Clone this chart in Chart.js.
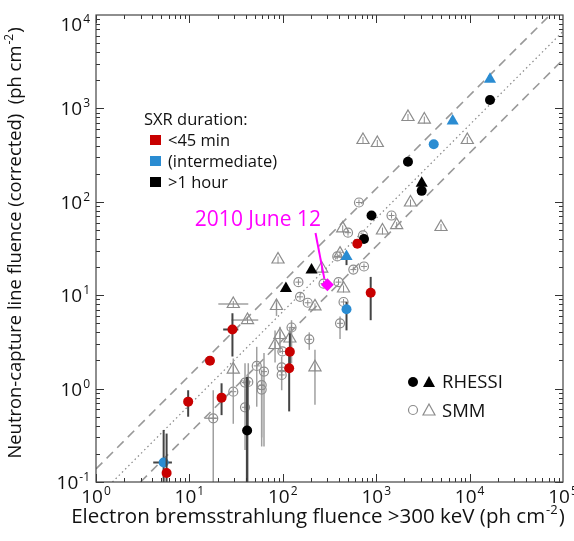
<!DOCTYPE html>
<html>
<head>
<meta charset="utf-8">
<script src="https://cdn.jsdelivr.net/npm/chart.js@4.4.1/dist/chart.umd.min.js"></script>
<style>
  html, body { margin: 0; padding: 0; background: #fff; }
</style>
</head>
<body>
<canvas id="chart" width="574" height="541"></canvas>
<script>
// rows: [x, y, yLow, yHigh, xLow, xHigh]  (null = no bar)
const rhessiRed = [
  [5.7, 0.125, 0.1, 0.33, null, null],
  [9.7, 0.725, 0.5, 0.96, null, null],
  [16.6, 1.99, null, null, null, null],
  [22.1, 0.80, 0.52, 1.14, null, null],
  [28.9, 4.3, 2.2, 6.4, 23, 33.4],
  [119, 2.48, 1.6, 3.9, null, null],
  [117, 1.65, 0.57, 2.4, null, null],
  [628, 35.6, null, null, null, null],
  [873, 10.6, 5.4, 15.7, null, null]
];
const rhessiBlue = [
  [5.3, 0.162, 0.1, 0.36, 4.1, 6.5],
  [481, 7.06, 4.2, 8.5, null, null],
  [4130, 413, null, null, null, null]
];
const rhessiBlack = [
  [41.5, 0.356, 0.1, 1.34, null, null],
  [740, 40.0, null, null, null, null],
  [891, 71.3, null, null, null, null],
  [2189, 269, null, null, null, null],
  [3070, 131, null, null, null, null],
  [16530, 1230, null, null, null, null]
];
const rhessiBlackTri = [
  [108, 11.8], [203, 18.6], [3070, 158]
];
const rhessiBlueTri = [
  [481, 26.0, 21, 26, null, null], [6590, 733], [16530, 2050]
];
const june12 = [[300, 12.9]];

const smmCircles = [
  [18.0, 0.481, 0.1, 0.96, 14.7, 20.2],
  [29.5, 0.927, null, null, null, null],
  [39.4, 0.631, 0.22, 1.0, null, null],
  [39.4, 1.16, 0.6, 1.87, null, null],
  [42.7, 1.18, 0.4, 1.87, null, null],
  [52.6, 1.75, 0.64, 2.8, null, null],
  [62.9, 1.52, 0.24, 2.4, null, null],
  [59.4, 1.09, 0.3, 1.6, null, null],
  [59.4, 0.977, 0.24, 1.4, null, null],
  [99, 2.5, null, null, null, null],
  [97.3, 1.69, 0.96, 2.2, null, null],
  [97.3, 1.40, null, null, null, null],
  [124, 4.51, 1.87, 5.4, null, null],
  [192, 3.37, 2.6, 4.0, null, null],
  [147, 13.8], [153, 9.6], [185, 8.3], [273, 13.3], [395, 13.8],
  [447, 8.46],
  [410, 5.0, 3.4, 5.9, null, null],
  [569, 18.8], [740, 20.3], [383, 26.0], [499, 46.7], [722, 43.6],
  [654, 98.3], [1459, 71.3]
];
const smmTriangles = [
  [29.5, 8.05, null, null, 20.4, 42.7],
  [41.9, 5.42, null, null, 28.3, 54.6],
  [85.6, 7.66, 6.0, 9.0, null, null],
  [93.3, 3.75, 2.4, 4.6, null, null],
  [82.6, 2.93, 1.9, 4.2, null, null],
  [119, 3.44, 2.4, 4.6, null, null],
  [221, 7.6],
  [29.5, 1.60, 0.42, 2.1, null, null],
  [221, 1.69, 0.67, 2.6, null, null],
  [88.9, 24.1], [261, 19.3], [447, 11.8], [410, 27.9], [438, 52.0],
  [1167, 49.3], [1657, 56.4], [2329, 98.3], [4943, 53.7], [9450, 459],
  [722, 459], [1028, 426], [2189, 809], [3275, 760]
];

// reference lines (end points)
const upperDash = [[1, 0.138], [72500, 10000]];
const dottedLine = [[1.5, 0.1], [150000, 10000]];
const lowerDash = [[3, 0.1], [300000, 10000]];

const xTickValues = [1, 10, 100, 1000, 10000, 100000];
const xTickExp = ['0', '1', '2', '3', '4', '5'];
const yTickValues = [0.1, 1, 10, 100, 1000, 10000];
const yTickExp = ['-1', '0', '1', '2', '3', '4'];

const RED = '#c80000', BLUE = '#2a8cd2', BLACK = '#000', GREY = '#8c8c8c';
const FONT = '"Open Sans", "DejaVu Sans", sans-serif';

const pts = rows => rows.map(r => ({
  x: r[0], y: r[1],
  yLo: r[2] ?? null, yHi: r[3] ?? null, xLo: r[4] ?? null, xHi: r[5] ?? null
}));
const linePts = rows => rows.map(r => ({ x: r[0], y: r[1] }));

function supText(ctx, base, sup, x, y, align, size, supSize) {
  ctx.font = size + 'px ' + FONT;
  const wb = ctx.measureText(base).width;
  ctx.font = supSize + 'px ' + FONT;
  const ws = ctx.measureText(sup).width;
  const total = wb + ws + 1;
  let x0 = x;
  if (align === 'center') x0 = x - total / 2;
  if (align === 'right') x0 = x - total;
  ctx.textAlign = 'left';
  ctx.font = size + 'px ' + FONT;
  ctx.fillText(base, x0, y);
  ctx.font = supSize + 'px ' + FONT;
  ctx.fillText(sup, x0 + wb + 1, y - size * 0.42);
}

// title with a trailing "cm^-2)" superscript
function unitTitle(ctx, text, cx, y, size) {
  ctx.font = size + 'px ' + FONT;
  const wt = ctx.measureText(text).width;
  const wc = ctx.measureText(')').width;
  ctx.font = Math.round(size * 0.63) + 'px ' + FONT;
  const ws = ctx.measureText('-2').width;
  const x0 = cx - (wt + ws + wc + 2) / 2;
  ctx.textAlign = 'left';
  ctx.font = size + 'px ' + FONT;
  ctx.fillText(text, x0, y);
  ctx.fillText(')', x0 + wt + ws + 2, y);
  ctx.font = Math.round(size * 0.63) + 'px ' + FONT;
  ctx.fillText('-2', x0 + wt + 1, y - size * 0.42);
}

const errorBars = {
  id: 'errorBars',
  beforeDatasetDraw(chart, args) {
    const ds = chart.data.datasets[args.index];
    if (!ds.bars) return;
    const { ctx, chartArea: a, scales: { x, y } } = chart;
    ctx.save();
    ctx.beginPath();
    ctx.rect(a.left, a.top, a.width, a.height);
    ctx.clip();
    ctx.strokeStyle = ds.bars.color;
    ctx.lineWidth = ds.bars.width;
    ds.data.forEach(p => {
      const px = x.getPixelForValue(p.x), py = y.getPixelForValue(p.y);
      ctx.beginPath();
      if (p.yLo != null) {
        ctx.moveTo(px, y.getPixelForValue(p.yLo));
        ctx.lineTo(px, y.getPixelForValue(p.yHi));
      }
      if (p.xLo != null) {
        ctx.moveTo(x.getPixelForValue(p.xLo), py);
        ctx.lineTo(x.getPixelForValue(p.xHi), py);
      }
      ctx.stroke();
    });
    ctx.restore();
  },
  afterDatasetDraw(chart, args) {
    const ds = chart.data.datasets[args.index];
    if (!ds.inner) return;
    const { ctx, scales: { x, y } } = chart;
    ctx.save();
    ctx.strokeStyle = GREY;
    ctx.lineWidth = 1;
    ds.data.forEach(p => {
      const px = x.getPixelForValue(p.x), py = y.getPixelForValue(p.y);
      ctx.beginPath();
      if (ds.inner === 'plus') {
        ctx.moveTo(px, py - 3); ctx.lineTo(px, py + 3);
        ctx.moveTo(px - 3, py); ctx.lineTo(px + 3, py);
      } else {
        ctx.moveTo(px, py - 3); ctx.lineTo(px, py + 4);
      }
      ctx.stroke();
    });
    ctx.restore();
  }
};

const frame = {
  id: 'frame',
  afterDraw(chart) {
    const { ctx, chartArea: a, scales: { x, y } } = chart;
    ctx.save();
    // inward ticks on all four sides
    ctx.strokeStyle = '#333';
    ctx.lineWidth = 1;
    ctx.beginPath();
    for (let d = 1; d < 100000; d *= 10) {
      for (let m = 1; m <= 9; m++) {
        const px = Math.round(x.getPixelForValue(d * m)) + 0.5;
        const len = m === 1 ? 8 : 4;
        ctx.moveTo(px, a.bottom); ctx.lineTo(px, a.bottom - len);
        ctx.moveTo(px, a.top); ctx.lineTo(px, a.top + len);
      }
    }
    for (let d = 0.1; d < 10000; d *= 10) {
      for (let m = 1; m <= 9; m++) {
        const py = Math.round(y.getPixelForValue(d * m)) + 0.5;
        const len = m === 1 ? 8 : 4;
        ctx.moveTo(a.left, py); ctx.lineTo(a.left + len, py);
        ctx.moveTo(a.right, py); ctx.lineTo(a.right - len, py);
      }
    }
    ctx.stroke();
    ctx.strokeStyle = '#444';
    ctx.lineWidth = 1.2;
    ctx.strokeRect(a.left, a.top, a.width, a.height);

    // tick labels
    ctx.fillStyle = '#111';
    xTickValues.forEach((v, i) => {
      supText(ctx, '10', xTickExp[i], x.getPixelForValue(v), 503, 'center', 19, 12);
    });
    yTickValues.forEach((v, i) => {
      const py = y.getPixelForValue(v);
      supText(ctx, '10', yTickExp[i], 90, Math.max(py + 7, 31), 'right', 19, 12);
    });

    // axis titles
    unitTitle(ctx, 'Electron bremsstrahlung fluence >300 keV (ph cm', 318, 523, 20.5);
    ctx.save();
    ctx.translate(21, 243);
    ctx.rotate(-Math.PI / 2);
    unitTitle(ctx, 'Neutron-capture line fluence (corrected)  (ph cm', 0, 0, 18.4);
    ctx.restore();

    // SXR duration legend
    ctx.textAlign = 'left';
    ctx.fillStyle = '#111';
    ctx.font = '16.5px ' + FONT;
    ctx.fillText('SXR duration:', 144, 125);
    const rows = [[RED, '<45 min', 140], [BLUE, '(intermediate)', 161], [BLACK, '>1 hour', 182]];
    rows.forEach(r => {
      ctx.fillStyle = r[0];
      ctx.fillRect(150, r[2] - 5, 11, 10);
      ctx.fillStyle = '#111';
      ctx.fillText(r[1], 168, r[2] + 6);
    });

    // instrument legend
    ctx.fillStyle = BLACK;
    ctx.beginPath(); ctx.arc(413, 382, 5, 0, Math.PI * 2); ctx.fill();
    ctx.beginPath(); ctx.moveTo(429, 376); ctx.lineTo(435, 387); ctx.lineTo(423, 387); ctx.closePath(); ctx.fill();
    ctx.strokeStyle = GREY; ctx.lineWidth = 1.2;
    ctx.beginPath(); ctx.arc(413, 410, 4.5, 0, Math.PI * 2); ctx.stroke();
    ctx.beginPath(); ctx.moveTo(429, 404); ctx.lineTo(435, 415); ctx.lineTo(423, 415); ctx.closePath(); ctx.stroke();
    ctx.fillStyle = '#111';
    ctx.font = '18.5px ' + FONT;
    ctx.fillText('RHESSI', 442, 388);
    ctx.fillText('SMM', 442, 417);

    // 2010 June 12 annotation
    const jx = x.getPixelForValue(june12[0][0]), jy = y.getPixelForValue(june12[0][1]);
    ctx.strokeStyle = '#ff00ff'; ctx.lineWidth = 2;
    ctx.beginPath(); ctx.moveTo(315.5, 233); ctx.lineTo(jx - 3, jy - 6); ctx.stroke();
    ctx.fillStyle = '#ff00ff';
    ctx.font = '21px ' + FONT;
    ctx.textAlign = 'right';
    ctx.fillText('2010 June 12', 321, 226);
    ctx.restore();
  }
};

const refLine = (rows, dash, width, color) => ({
  data: linePts(rows), showLine: true, pointRadius: 0, borderColor: color,
  borderWidth: width, borderDash: dash, fill: false, order: 10
});

new Chart(document.getElementById('chart'), {
  type: 'scatter',
  data: {
    datasets: [
      refLine(upperDash, [9, 6], 1.6, '#999'),
      refLine(dottedLine, [1.5, 3], 1.2, '#888'),
      refLine(lowerDash, [9, 6], 1.6, '#999'),
      { label: 'SMM circles', data: pts(smmCircles), pointStyle: 'circle', pointRadius: 4.5,
        backgroundColor: 'rgba(255,255,255,0)', borderColor: GREY, borderWidth: 1.2,
        bars: { color: '#a0a0a0', width: 1.5 }, inner: 'plus', order: 6 },
      { label: 'SMM triangles', data: pts(smmTriangles), pointStyle: 'triangle', pointRadius: 7,
        backgroundColor: 'rgba(255,255,255,0)', borderColor: GREY, borderWidth: 1.2,
        bars: { color: '#a0a0a0', width: 1.5 }, inner: 'tick', order: 5 },
      { label: '<45 min', data: pts(rhessiRed), pointStyle: 'circle', pointRadius: 5,
        backgroundColor: RED, borderColor: RED, borderWidth: 0,
        bars: { color: '#444', width: 2 }, order: 3 },
      { label: 'intermediate', data: pts(rhessiBlue), pointStyle: 'circle', pointRadius: 5,
        backgroundColor: BLUE, borderColor: BLUE, borderWidth: 0,
        bars: { color: '#444', width: 2 }, order: 3 },
      { label: '>1 hour', data: pts(rhessiBlack), pointStyle: 'circle', pointRadius: 5,
        backgroundColor: BLACK, borderColor: BLACK, borderWidth: 0,
        bars: { color: '#444', width: 2.5 }, order: 3 },
      { label: 'RHESSI black tri', data: pts(rhessiBlackTri), pointStyle: 'triangle', pointRadius: 7,
        backgroundColor: BLACK, borderColor: BLACK, borderWidth: 0, order: 2 },
      { label: 'RHESSI blue tri', data: pts(rhessiBlueTri), pointStyle: 'triangle', pointRadius: 7,
        backgroundColor: BLUE, borderColor: BLUE, borderWidth: 0,
        bars: { color: '#444', width: 2 }, order: 2 },
      { label: '2010 June 12', data: pts(june12), pointStyle: 'rectRot', pointRadius: 6.5,
        backgroundColor: '#ff00ff', borderColor: '#ff00ff', borderWidth: 0, order: 1 }
    ]
  },
  options: {
    responsive: false,
    animation: false,
    devicePixelRatio: 1,
    layout: { padding: { top: 15, right: 11, left: 0, bottom: 0 } },
    plugins: { legend: { display: false }, tooltip: { enabled: false } },
    scales: {
      x: {
        type: 'logarithmic', min: 1, max: 100000,
        grid: { display: false }, border: { display: false },
        ticks: { display: false },
        afterFit: s => { s.height = 59; }
      },
      y: {
        type: 'logarithmic', min: 0.1, max: 10000,
        grid: { display: false }, border: { display: false },
        ticks: { display: false },
        afterFit: s => { s.width = 96; }
      }
    }
  },
  plugins: [errorBars, frame]
});
</script>
</body>
</html>
